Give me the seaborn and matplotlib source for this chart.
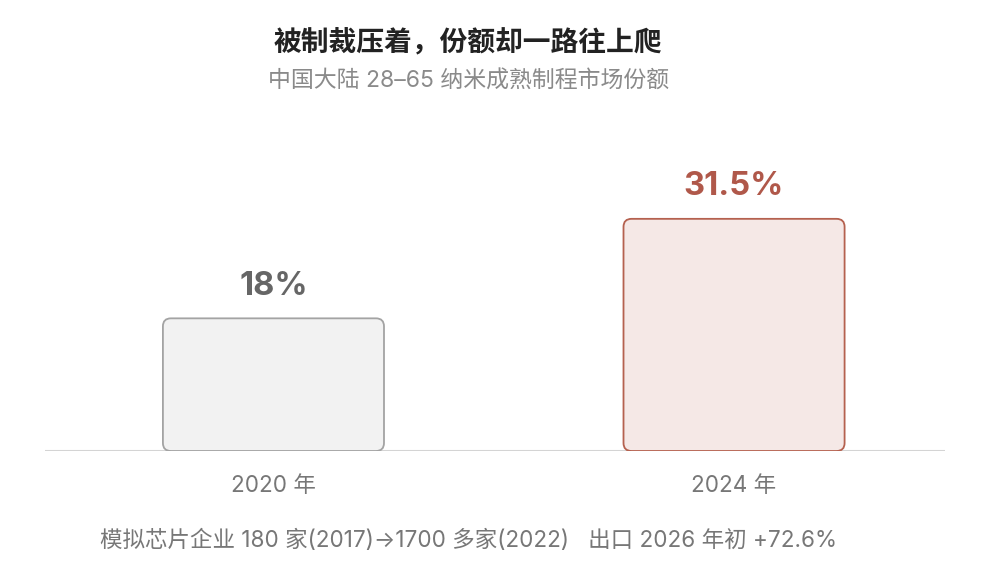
import pandas as pd
import seaborn as sns
import matplotlib.pyplot as plt
from matplotlib.patches import FancyBboxPatch

# data
years = ['2020 年', '2024 年']
share = [18, 31.5]
value_labels = ['18%', '31.5%']

fills = ['#f2f2f2', '#f5e8e6']
edges = ['#a3a3a3', '#b5614f']
label_colors = ['#666666', '#b0584a']

sns.set_theme(style='white')
plt.rcParams['font.family'] = ['Inter', 'Noto Sans CJK SC', 'DejaVu Sans']

df = pd.DataFrame({'year': years, 'share': share})

fig = plt.figure(figsize=(10, 5.77), dpi=100)
# axes placed in pixels: baseline at y=451, x from 45 to 945
W, H = 1000, 577
ax_h = 40 * 7.37
ax = fig.add_axes([45 / W, (H - 451) / H, 900 / W, ax_h / H])

sns.barplot(data=df, x='year', y='share', ax=ax, width=0.48, color='#f2f2f2')

ax.set_xlim(-0.496, 1.458)
ax.set_ylim(0, 40)

# swap plain bars for rounded ones
px_x = 900 / (1.458 + 0.496)
px_y = ax_h / 40
radius = 8 / px_x
aspect = px_x / px_y
for i, bar in enumerate(list(ax.patches)):
    x, y = bar.get_x(), bar.get_y()
    w, h = bar.get_width(), bar.get_height()
    bar.remove()
    rb = FancyBboxPatch((x, y), w, h,
                        boxstyle=f'round,pad=0,rounding_size={radius}',
                        mutation_aspect=aspect,
                        facecolor=fills[i], edgecolor=edges[i],
                        linewidth=1.3, zorder=3)
    ax.add_patch(rb)
    ax.text(x + w / 2, y + h + 32 / px_y, value_labels[i],
            ha='center', va='center', fontsize=23.5, fontweight='bold',
            color=label_colors[i])

ax.axhline(0, color='#d4d4d4', linewidth=1.5, zorder=1)
sns.despine(ax=ax, left=True, bottom=True)
ax.set_yticks([])
ax.set_xlabel('')
ax.set_ylabel('')
ax.tick_params(axis='x', length=0, pad=17, labelsize=16.2, labelcolor='#777777')

fig.text(0.468, 1 - 44 / H, '被制裁压着，份额却一路往上爬', ha='center', va='center',
         fontsize=20, fontweight='bold', color='#222222')
fig.text(0.469, 1 - 82 / H, '中国大陆 28–65 纳米成熟制程市场份额', ha='center', va='center',
         fontsize=16.5, color='#8a8a8a')
fig.text(0.468, 1 - 541 / H, '模拟芯片企业 180 家(2017)→1700 多家(2022)   出口 2026 年初 +72.6%',
         ha='center', va='center', fontsize=16.2, color='#777777')

fig.savefig('out.png', dpi=100)
